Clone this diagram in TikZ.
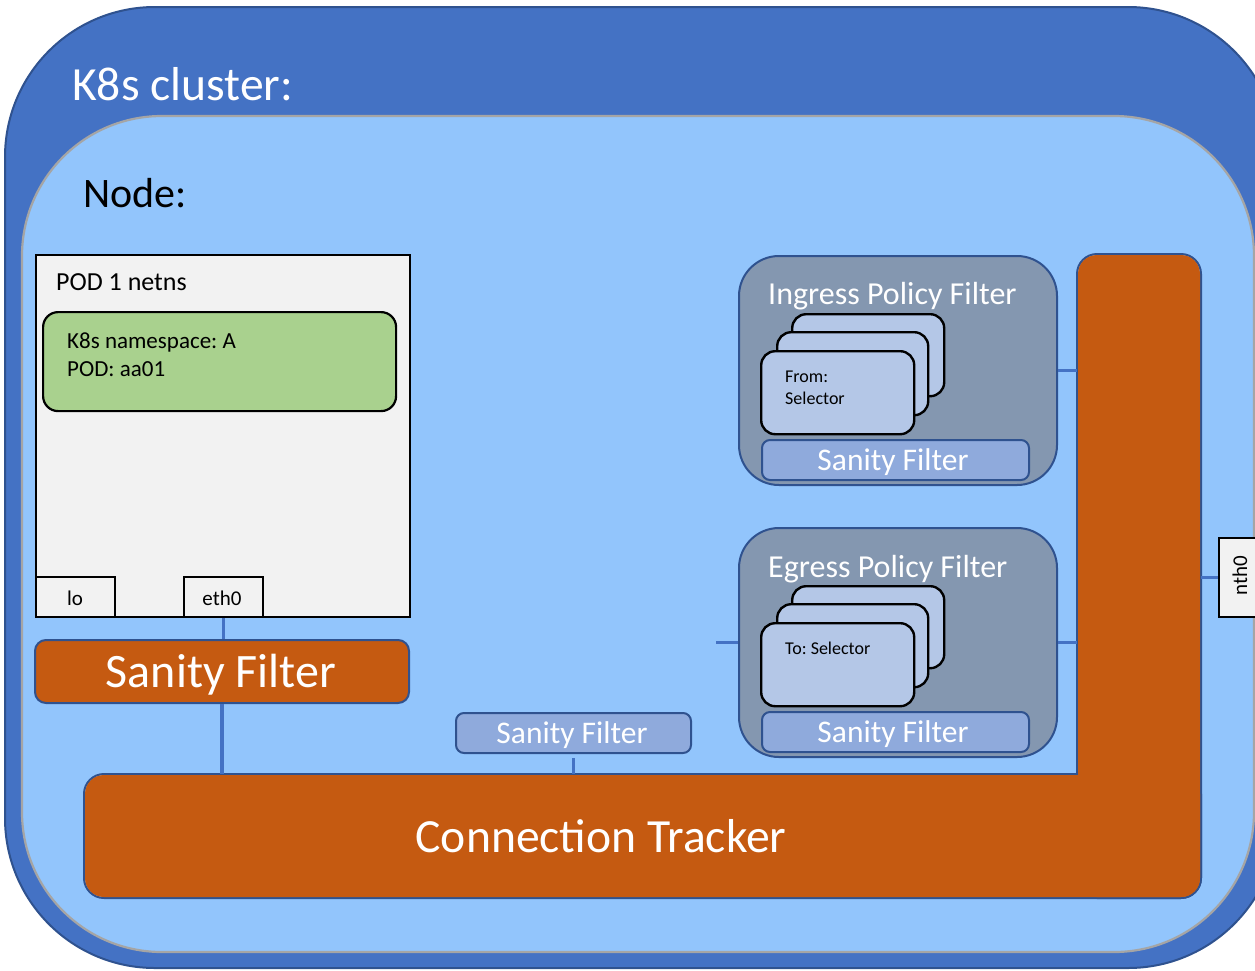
\documentclass[tikz,border=0pt]{standalone}
\usepackage{fontspec}
\setmainfont{Carlito}
\frenchspacing
\definecolor{clusterblue}{HTML}{4472C4}
\definecolor{edgeblue}{HTML}{2F528F}
\definecolor{nodeblue}{HTML}{92C5FC}
\definecolor{nodegray}{HTML}{A5A5A5}
\definecolor{rust}{HTML}{C55A11}
\definecolor{slate}{HTML}{8497B0}
\definecolor{cardblue}{HTML}{B4C7E7}
\definecolor{paleblue}{HTML}{8FAADC}
\definecolor{leaf}{HTML}{A9D18E}
\definecolor{paper}{HTML}{F2F2F2}
\newcommand{\fs}[1]{\fontsize{#1}{#1}\selectfont}
\tikzset{
  box/.style={draw=black, line width=2pt, fill=paper, inner sep=0pt, anchor=north west},
  nsbox/.style={draw=black, line width=2.2pt, fill=leaf, rounded corners=15pt, inner sep=0pt, anchor=north west},
  rustbox/.style={draw=edgeblue, line width=2pt, fill=rust, rounded corners=11pt, inner sep=0pt, anchor=north west},
  policy/.style={draw=edgeblue, line width=2pt, fill=slate, rounded corners=40pt, inner sep=0pt, anchor=north west,
    minimum width=318pt, minimum height=229pt},
  card/.style={draw=black, line width=2.4pt, fill=cardblue, rounded corners=14pt, inner sep=0pt, anchor=north west},
  thin sanity/.style={draw=edgeblue, line width=2pt, fill=paleblue, rounded corners=8pt, inner sep=0pt, anchor=north west},
  link/.style={draw=clusterblue, line width=3.2pt},
  txt/.style={inner sep=0pt, anchor=base west},
  ctxt/.style={inner sep=0pt, anchor=base},
}
\begin{document}
\begin{tikzpicture}[x=1pt, y=-1pt]
\useasboundingbox (0,0) rectangle (1255,970);
\clip (0,0) rectangle (1255,970);

% cluster and node frames
\draw[draw=edgeblue, line width=2pt, fill=clusterblue, rounded corners=150pt] (5,7) rectangle (1278,968);
\draw[draw=nodegray, line width=2.2pt, fill=nodeblue, rounded corners=140pt] (22,116) rectangle (1254,952);
\node[txt, text=white] (clustertitle) at (72,100) {\fs{47.6}K8s cluster:};
\node[txt] (nodetitle) at (83,207) {\fs{42}Node:};

% connection tracker (L-shaped: outline of both bars, then fill over the seams)
\draw[draw=edgeblue, line width=2pt, rounded corners=20pt] (84,774) rectangle (1201,898);
\draw[draw=edgeblue, line width=2pt, rounded corners=20pt] (1077,254) rectangle (1201,898);
\fill[rust, rounded corners=19pt] (85,775) rectangle (1200,897);
\fill[rust, rounded corners=19pt] (1078,255) rectangle (1200,897);
\node[ctxt, text=white] (cttext) at (601,852) {\fs{47.6}Connection Tracker};
\coordinate (ctTop) at (0,774);
\coordinate (ctLeft) at (1077,0);
\coordinate (ctRight) at (1201,0);

% pod namespace
\node[box, minimum width=374pt, minimum height=362pt] (pod) at (35,254) {};
\node[txt] (podtitle) at (56,290) {\fs{26}POD 1 netns};
\node[nsbox, minimum width=353pt, minimum height=99pt] (ns) at (42,311) {};
\node[txt] (nsA) at (67,348) {\fs{23}K8s namespace: A};
\node[txt] (nsB) at (67,376) {\fs{23}POD: aa01};
\node[box, minimum width=79pt, minimum height=40pt] (lo) at (35,576) {};
\node[box, minimum width=79pt, minimum height=40pt] (eth) at (183,576) {};
\node[ctxt] (lotext) at (75,605) {\fs{21}lo};
\node[ctxt] (ethtext) at (222,605) {\fs{21}eth0};

% pod sanity filter
\node[rustbox, minimum width=374pt, minimum height=63pt] (sf1) at (34,639) {};
\node[ctxt, text=white] (sf1text) at (221,687) {\fs{48}Sanity Filter};

% host-side sanity filter
\node[thin sanity, minimum width=235pt, minimum height=40pt] (sf2) at (455,712) {};
\node[ctxt, text=white] (sf2text) at (572,743) {\fs{31.5}Sanity Filter};

% ingress policy
\node[policy] (ing) at (738,255) {};
\node[txt, text=white] (ingtitle) at (768,304) {\fs{32}Ingress Policy Filter};
\node[card, minimum width=152pt, minimum height=82pt] (ingc3) at (791,313) {};
\node[card, minimum width=151pt, minimum height=83pt] (ingc2) at (776,331) {};
\node[card, minimum width=153pt, minimum height=83pt] (ingc1) at (760,350) {};
\node[txt] (ingfrom) at (785,382) {\fs{18}From:};
\node[txt] (ingsel) at (785,404) {\fs{18}Selector};
\node[thin sanity, minimum width=267pt, minimum height=40pt] (ingsf) at (761,439) {};
\node[ctxt, text=white] (ingsftext) at (893,470) {\fs{31.5}Sanity Filter};

% egress policy
\node[policy] (egr) at (738,527) {};
\node[txt, text=white] (egrtitle) at (768,577) {\fs{32}Egress Policy Filter};
\node[card, minimum width=152pt, minimum height=82pt] (egrc3) at (791,585) {};
\node[card, minimum width=151pt, minimum height=83pt] (egrc2) at (776,603) {};
\node[card, minimum width=153pt, minimum height=83pt] (egrc1) at (760,622) {};
\node[txt] (egrto) at (785,654) {\fs{18}To: Selector};
\node[thin sanity, minimum width=267pt, minimum height=40pt] (egrsf) at (761,711) {};
\node[ctxt, text=white] (egrsftext) at (893,742) {\fs{31.5}Sanity Filter};

% host interface
\node[box, minimum width=42pt, minimum height=79pt] (nth) at (1218,537) {};
\node[inner sep=0pt, rotate=90] (nthtext) at (1240,576) {\fs{21}nth0};

% links
\draw[link] (eth.south) -- (eth.south |- sf1.north);
\draw[link] (sf1.south) -- (sf1.south |- ctTop);
\draw[link] ([yshift=-4pt]sf2.south) -- (sf2.south |- ctTop);
\draw[link] (ing.east) -- (ing.east -| ctLeft);
\draw[link] (egr.east) -- (egr.east -| ctLeft);
\coordinate (stub) at ([xshift=-22pt]egr.west);
\draw[link] (stub) -- (egr.west);
\draw[link] (nth.west -| ctRight) -- (nth.west);
\end{tikzpicture}
\end{document}
